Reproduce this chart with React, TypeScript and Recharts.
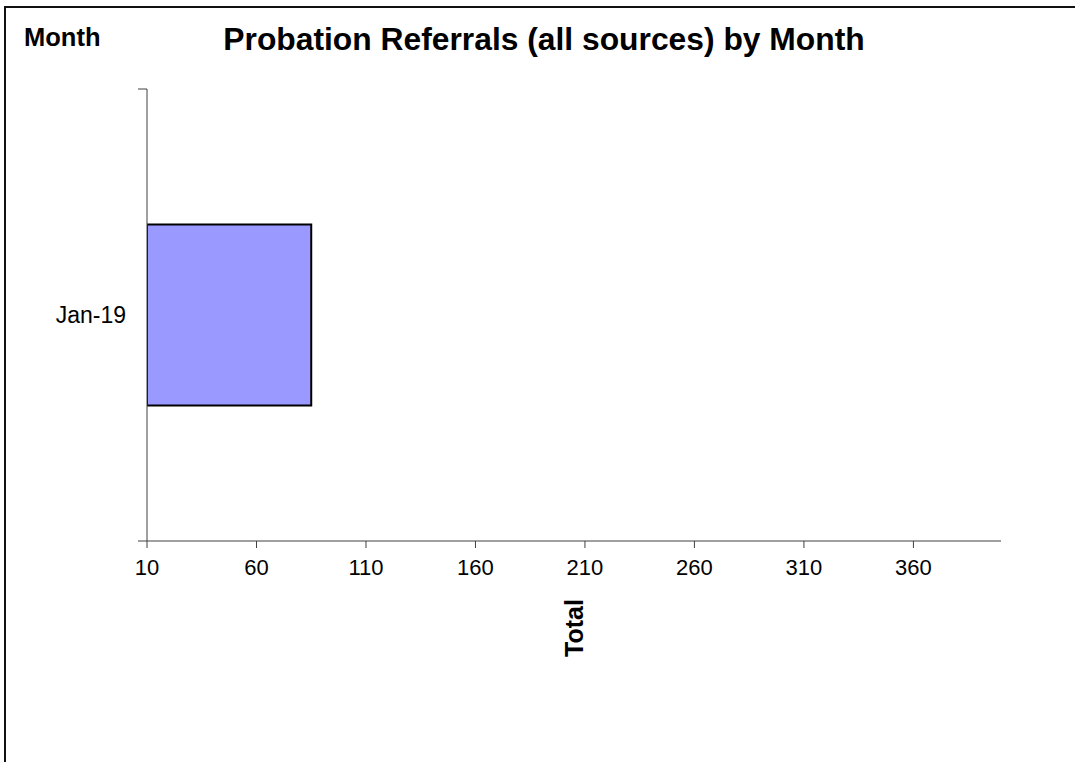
import { BarChart, Bar, XAxis, YAxis } from 'recharts';

const months = ['Jan-19'];
const totals = [85];
const totalTicks = [10, 60, 110, 160, 210, 260, 310, 360];

const FONT = '"Liberation Sans", Arial, sans-serif';
const AXIS_COLOR = '#404040';
const Y_TICK_MARGIN = 21;

const chartData = months.map((month, i) => ({ month, total: totals[i] }));

function TotalLabel(props: any) {
  const { viewBox } = props;
  const cx = viewBox.x + viewBox.width / 2;
  const cy = viewBox.y + 87;
  return (
    <text
      x={cx}
      y={cy}
      transform={`rotate(-90, ${cx}, ${cy})`}
      textAnchor="middle"
      dominantBaseline="central"
      fontFamily={FONT}
      fontWeight="bold"
      fontSize={25}
      fill="#000"
    >
      Total
    </text>
  );
}

// category label plus the small boundary ticks at the band edges
function MonthTick(props: any) {
  const { x, y, payload } = props;
  const axisX = x + Y_TICK_MARGIN;
  const half = payload.offset || 0;
  return (
    <g>
      <line x1={axisX - 9} x2={axisX} y1={y - half} y2={y - half} stroke={AXIS_COLOR} />
      <line x1={axisX - 9} x2={axisX} y1={y + half} y2={y + half} stroke={AXIS_COLOR} />
      <text
        x={x}
        y={y}
        textAnchor="end"
        dominantBaseline="central"
        fontFamily={FONT}
        fontSize={23}
        fill="#000"
      >
        {payload.value}
      </text>
    </g>
  );
}

export default function App() {
  return (
    <div
      style={{
        position: 'absolute',
        left: 0,
        top: 0,
        width: 1075,
        height: 762,
        background: '#fff',
        overflow: 'hidden',
        fontFamily: FONT,
      }}
    >
      {/* frame, only top and left edges visible in the picture */}
      <div
        style={{
          position: 'absolute',
          left: 4,
          top: 6,
          width: 1100,
          height: 800,
          borderTop: '2px solid #111',
          borderLeft: '2px solid #111',
        }}
      />
      <div
        style={{
          position: 'absolute',
          left: 24,
          top: 22,
          fontSize: 25.5,
          fontWeight: 'bold',
          lineHeight: '30px',
        }}
      >
        Month
      </div>
      <div
        style={{
          position: 'absolute',
          left: 0,
          width: 1088,
          top: 19,
          textAlign: 'center',
          fontSize: 31.8,
          fontWeight: 'bold',
          lineHeight: '40px',
        }}
      >
        Probation Referrals (all sources) by Month
      </div>
      <div style={{ position: 'absolute', left: 0, top: 0 }}>
        <BarChart
          width={1075}
          height={762}
          data={chartData}
          layout="vertical"
          margin={{ top: 89, right: 74, bottom: 181, left: 0 }}
          barCategoryGap="30%"
        >
          <XAxis
            type="number"
            domain={[10, 400]}
            ticks={totalTicks}
            allowDataOverflow
            stroke={AXIS_COLOR}
            tickSize={7}
            tickMargin={11}
            tick={{ fill: '#000', fontSize: 22, fontFamily: FONT }}
            height={40}
            label={{ content: <TotalLabel /> }}
          />
          <YAxis
            type="category"
            dataKey="month"
            width={147}
            stroke={AXIS_COLOR}
            tickLine={false}
            tickSize={0}
            tickMargin={Y_TICK_MARGIN}
            tick={<MonthTick />}
          />
          <Bar
            dataKey="total"
            fill="#9999FF"
            stroke="#000"
            strokeWidth={2}
            isAnimationActive={false}
          />
        </BarChart>
      </div>
    </div>
  );
}
